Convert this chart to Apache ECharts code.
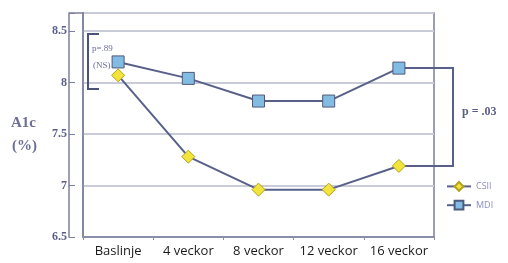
<!DOCTYPE html>
<html>
<head>
<meta charset="utf-8">
<script src="https://cdn.jsdelivr.net/npm/echarts@6/dist/echarts.min.js"></script>
<style>
  html, body { margin: 0; padding: 0; background: #fff; }
  #chart { width: 508px; height: 263px; }
</style>
</head>
<body>
<div id="chart"></div>
<script>
// data
const categories = ["Baslinje", "4 veckor", "8 veckor", "12 veckor", "16 veckor"];
const csiiValues = [8.07, 7.28, 6.96, 6.96, 7.19];
const mdiValues = [8.2, 8.04, 7.82, 7.82, 8.14];
const yTicks = [6.5, 7, 7.5, 8, 8.5];

const axisColor = "#7c809c";
const lineColor = "#58608a";
const textColor = "#5a5f88";

const chart = echarts.init(document.getElementById("chart"));

const option = {
  animation: false,
  backgroundColor: "#fff",
  grid: {
    left: 83,
    right: 74,
    top: 13,
    bottom: 26,
    show: true,
    borderColor: axisColor,
    borderWidth: 1.5
  },
  legend: {
    orient: "vertical",
    left: 441,
    top: 176,
    itemWidth: 24,
    itemHeight: 11,
    itemGap: 8,
    textStyle: { color: "#8a8fc0", fontSize: 9, fontFamily: "Open Sans" },
    data: ["CSII", "MDI"]
  },
  xAxis: {
    type: "category",
    data: categories,
    boundaryGap: true,
    axisLine: { lineStyle: { color: "#8a8ea8", width: 2 } },
    axisTick: { show: true, length: 3, lineStyle: { color: "#8a8ea8" } },
    axisLabel: {
      interval: 0,
      color: "#1a1a1a",
      fontSize: 13,
      fontFamily: "Open Sans",
      margin: 8
    },
    splitLine: { show: false }
  },
  yAxis: [
    {
      type: "value",
      min: 6.5,
      max: 8.675,
      interval: 0.5,
      offset: 14,
      axisLine: { show: true, lineStyle: { color: axisColor, width: 1.5 } },
      axisTick: { show: true, inside: true, length: 6, lineStyle: { color: axisColor } },
      axisLabel: {
        color: textColor,
        fontSize: 12,
        fontWeight: "bold",
        fontFamily: "Liberation Serif",
        margin: 2,
        formatter: function (v) {
          return yTicks.indexOf(Math.round(v * 100) / 100) >= 0 ? String(v) : "";
        }
      },
      splitLine: { show: true, lineStyle: { color: "#c9cbd9", width: 2 } }
    },
    {
      type: "value",
      min: 6.5,
      max: 8.675,
      position: "left",
      offset: 0,
      axisLine: { show: true, lineStyle: { color: axisColor, width: 1.5 } },
      axisTick: { show: false },
      axisLabel: { show: false },
      splitLine: { show: false }
    }
  ],
  series: [
    {
      name: "CSII",
      type: "line",
      data: csiiValues,
      symbol: "diamond",
      symbolSize: [13, 13],
      lineStyle: { color: lineColor, width: 2 },
      itemStyle: { color: "#f2e43a", borderColor: "#b3a21c", borderWidth: 1 },
      z: 3
    },
    {
      name: "MDI",
      type: "line",
      data: mdiValues,
      symbol: "rect",
      symbolSize: 12,
      lineStyle: { color: lineColor, width: 2 },
      itemStyle: { color: "#82bce2", borderColor: "#4d5a7c", borderWidth: 1 },
      z: 3
    }
  ]
};

chart.setOption(option);

// bracket between the 16-week values, placed from the data
const last = categories.length - 1;
const pMdi = chart.convertToPixel({ xAxisIndex: 0, yAxisIndex: 0 }, [last, mdiValues[last]]);
const pCsii = chart.convertToPixel({ xAxisIndex: 0, yAxisIndex: 0 }, [last, csiiValues[last]]);
const bx = 453;

chart.setOption({
  graphic: [
    // top frame piece over the outer axis
    {
      type: "line",
      shape: { x1: 69, y1: 13, x2: 84, y2: 13 },
      style: { stroke: axisColor, lineWidth: 1.5 }
    },
    {
      type: "polyline",
      shape: { points: [[pMdi[0] + 6, pMdi[1]], [bx, pMdi[1]], [bx, pCsii[1]], [pCsii[0] + 6, pCsii[1]]] },
      style: { stroke: lineColor, lineWidth: 2, fill: null },
      z: 2
    },
    {
      type: "text",
      left: 462,
      top: 106,
      style: { text: "p = .03", fill: textColor, font: "bold 12px 'Liberation Serif'" }
    },
    // baseline bracket
    {
      type: "polyline",
      shape: { points: [[99, 34], [88, 34], [88, 89], [99, 89]] },
      style: { stroke: "#4d5278", lineWidth: 2, fill: null }
    },
    {
      type: "text",
      left: 92,
      top: 44,
      style: { text: "p=.89", fill: "#6a6fa6", font: "9px 'Liberation Serif'" }
    },
    {
      type: "text",
      left: 93,
      top: 61,
      style: { text: "(NS)", fill: "#6a6fa6", font: "9px 'Liberation Serif'" }
    },
    {
      type: "text",
      left: 11,
      top: 116,
      style: { text: "A1c", fill: "#6b6f96", font: "bold 15px 'Liberation Serif'" }
    },
    {
      type: "text",
      left: 12,
      top: 139,
      style: { text: "(%)", fill: "#6b6f96", font: "bold 15px 'Liberation Serif'" }
    }
  ]
});
</script>
</body>
</html>
